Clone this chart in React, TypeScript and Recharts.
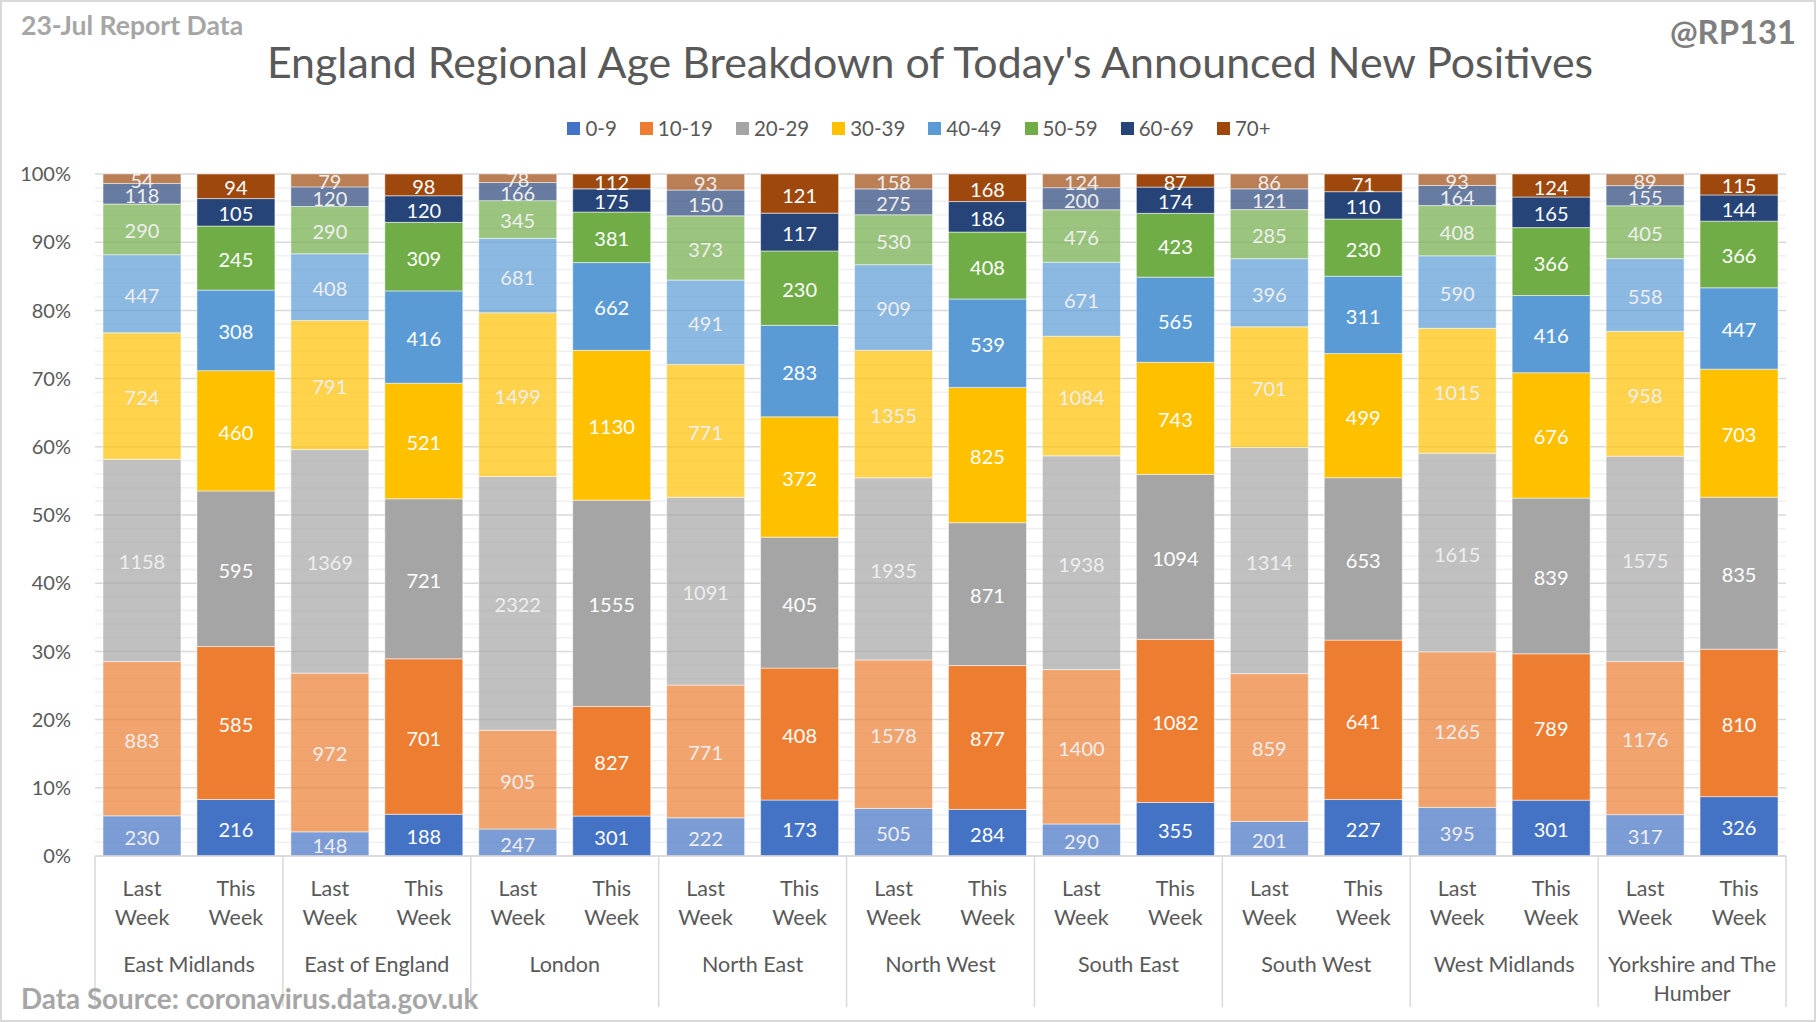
import React from 'react';
import { BarChart, Bar, XAxis, YAxis, CartesianGrid, Cell, LabelList } from 'recharts';

const W = 1816;
const H = 1022;
const FONT = "Lato, 'Open Sans', sans-serif";

const ageGroups = ['0-9', '10-19', '20-29', '30-39', '40-49', '50-59', '60-69', '70+'];
const colors = ['#4472C4', '#ED7D31', '#A5A5A5', '#FFC000', '#5B9BD5', '#70AD47', '#264478', '#9E480E'];

const regions = [
  'East Midlands',
  'East of England',
  'London',
  'North East',
  'North West',
  'South East',
  'South West',
  'West Midlands',
  'Yorkshire and The Humber',
];
const weeks = ['Last Week', 'This Week'];

// counts per age group, one row per region (same order as ageGroups)
const lastWeekCounts = [
  [230, 883, 1158, 724, 447, 290, 118, 54],
  [148, 972, 1369, 791, 408, 290, 120, 79],
  [247, 905, 2322, 1499, 681, 345, 166, 78],
  [222, 771, 1091, 771, 491, 373, 150, 93],
  [505, 1578, 1935, 1355, 909, 530, 275, 158],
  [290, 1400, 1938, 1084, 671, 476, 200, 124],
  [201, 859, 1314, 701, 396, 285, 121, 86],
  [395, 1265, 1615, 1015, 590, 408, 164, 93],
  [317, 1176, 1575, 958, 558, 405, 155, 89],
];
const thisWeekCounts = [
  [216, 585, 595, 460, 308, 245, 105, 94],
  [188, 701, 721, 521, 416, 309, 120, 98],
  [301, 827, 1555, 1130, 662, 381, 175, 112],
  [173, 408, 405, 372, 283, 230, 117, 121],
  [284, 877, 871, 825, 539, 408, 186, 168],
  [355, 1082, 1094, 743, 565, 423, 174, 87],
  [227, 641, 653, 499, 311, 230, 110, 71],
  [301, 789, 839, 676, 416, 366, 165, 124],
  [326, 810, 835, 703, 447, 366, 144, 115],
];

const majorTicks = [0, 0.1, 0.2, 0.3, 0.4, 0.5, 0.6, 0.7, 0.8, 0.9, 1];
const minorTicks = [0.02, 0.04, 0.06, 0.08, 0.12, 0.14, 0.16, 0.18, 0.22, 0.24, 0.26, 0.28, 0.32, 0.34, 0.36, 0.38,
  0.42, 0.44, 0.46, 0.48, 0.52, 0.54, 0.56, 0.58, 0.62, 0.64, 0.66, 0.68, 0.72, 0.74, 0.76, 0.78,
  0.82, 0.84, 0.86, 0.88, 0.92, 0.94, 0.96, 0.98];

const rows: any[] = [];
regions.forEach((region, r) => {
  [lastWeekCounts[r], thisWeekCounts[r]].forEach((counts, w) => {
    const row: any = { id: region + '|' + weeks[w], region, week: weeks[w], weekIdx: w };
    ageGroups.forEach((g, i) => { row[g] = counts[i]; });
    rows.push(row);
  });
});

const MARGIN = { top: 174, right: 30, bottom: 16, left: 0 };
const Y_AXIS_W = 95;
const X_AXIS_H = 150;
const BAND = (W - MARGIN.left - MARGIN.right - Y_AXIS_W) / rows.length;

const wrapWords = (text: string, max: number) => {
  const lines: string[] = [];
  let cur = '';
  text.split(' ').forEach((w) => {
    const next = cur ? cur + ' ' + w : w;
    if (next.length > max && cur) {
      lines.push(cur);
      cur = w;
    } else {
      cur = next;
    }
  });
  if (cur) lines.push(cur);
  return lines;
};

const WeekTick = (props: any) => {
  const { x, y, payload } = props;
  const idx = payload?.index ?? props.index;
  const row = rows[idx];
  if (!row) return null;
  const half = payload?.offset || BAND / 2;
  const textStyle = { fontFamily: FONT, fontSize: 21.5, fill: '#595959' };
  const weekLines = row.week.split(' ');
  return (
    <g>
      {weekLines.map((t: string, i: number) => (
        <text key={i} x={x} y={y + 32 + i * 29} textAnchor="middle" dominantBaseline="central" style={textStyle}>
          {t}
        </text>
      ))}
      {row.weekIdx === 0 && (
        <>
          <line x1={x - half} x2={x - half} y1={y} y2={y + 151} stroke="#d9d9d9" strokeWidth={1.5} />
          {wrapWords(row.region, 18).map((t, i) => (
            <text key={'r' + i} x={x + half} y={y + 108 + i * 29} textAnchor="middle" dominantBaseline="central" style={textStyle}>
              {t}
            </text>
          ))}
        </>
      )}
      {idx === rows.length - 1 && (
        <line x1={x + half} x2={x + half} y1={y} y2={y + 151} stroke="#d9d9d9" strokeWidth={1.5} />
      )}
    </g>
  );
};

const makeLabel = (groupIdx: number) => (props: any) => {
  const vb = props.viewBox || props;
  const { x, y, width, height } = vb;
  const row = rows[props.index];
  if (!row || x == null) return null;
  const value = row[ageGroups[groupIdx]];
  return (
    <text
      x={x + width / 2}
      y={y + height / 2 + 1}
      textAnchor="middle"
      dominantBaseline="central"
      style={{ fontFamily: FONT, fontSize: 20, fill: row.weekIdx === 0 ? '#eeeeee' : '#ffffff' }}
    >
      {value}
    </text>
  );
};

const App = () => {
  return (
    <div style={{ position: 'absolute', left: 0, top: 0, width: W, height: H, background: '#fff', fontFamily: FONT }}>
      <BarChart
        width={W}
        height={H}
        data={rows}
        stackOffset="expand"
        margin={MARGIN}
        barCategoryGap="8.5%"
      >
        <CartesianGrid vertical={false} horizontalValues={minorTicks} stroke="#f0f0f0" strokeWidth={1.5} />
        <CartesianGrid vertical={false} stroke="#d9d9d9" strokeWidth={1.5} />
        <XAxis
          dataKey="id"
          type="category"
          interval={0}
          height={X_AXIS_H}
          tickLine={false}
          tickSize={0}
          tickMargin={0}
          axisLine={{ stroke: '#d9d9d9', strokeWidth: 1.5 }}
          tick={<WeekTick />}
        />
        <YAxis
          width={Y_AXIS_W}
          domain={[0, 1]}
          ticks={majorTicks}
          interval={0}
          tickFormatter={(v: number) => Math.round(v * 100) + '%'}
          axisLine={false}
          tickLine={false}
          tickSize={0}
          tickMargin={24}
          tick={{ fill: '#595959', fontSize: 20, fontFamily: FONT }}
        />
        {ageGroups.map((g, i) => (
          <Bar key={g} dataKey={g} stackId="a" fill={colors[i]} stroke="#ffffff" strokeOpacity={0.5} strokeWidth={1} isAnimationActive={false}>
            {rows.map((r, j) => (
              <Cell key={j} fill={colors[i]} fillOpacity={r.weekIdx === 0 ? 0.7 : 1} />
            ))}
            <LabelList dataKey={g} content={makeLabel(i)} />
          </Bar>
        ))}
      </BarChart>

      {/* legend */}
      <div style={{ position: 'absolute', top: 113, left: 0, width: 1838, display: 'flex', justifyContent: 'center' }}>
        {ageGroups.map((g, i) => (
          <div key={g} style={{ display: 'flex', alignItems: 'center', marginRight: i < ageGroups.length - 1 ? 23 : 0 }}>
            <span style={{ width: 13, height: 13, background: colors[i], display: 'inline-block', marginRight: 5 }} />
            <span style={{ fontSize: 20.5, color: '#595959', lineHeight: '30px' }}>{g}</span>
          </div>
        ))}
      </div>

      <div style={{ position: 'absolute', top: 35, left: 0, width: 1860, textAlign: 'center', fontSize: 42.9, fontWeight: 400, color: '#595959', lineHeight: '54px', whiteSpace: 'nowrap' }}>
        England Regional Age Breakdown of Today's Announced New Positives
      </div>
      <div style={{ position: 'absolute', top: 8, left: 21, fontSize: 26.6, fontWeight: 700, color: '#a6a6a6', lineHeight: '34px' }}>
        23-Jul Report Data
      </div>
      <div style={{ position: 'absolute', top: 11, right: 20, fontSize: 32.8, fontWeight: 700, color: '#7f7f7f', lineHeight: '42px' }}>
        @RP131
      </div>
      <div style={{ position: 'absolute', top: 982, left: 21, fontSize: 27.8, fontWeight: 700, color: '#a6a6a6', lineHeight: '34px', whiteSpace: 'nowrap' }}>
        Data Source: coronavirus.data.gov.uk
      </div>
      <div style={{ position: 'absolute', left: 0, top: 0, width: W, height: H, boxSizing: 'border-box', border: '2px solid #d9d9d9', pointerEvents: 'none' }} />
    </div>
  );
};

export default App;
